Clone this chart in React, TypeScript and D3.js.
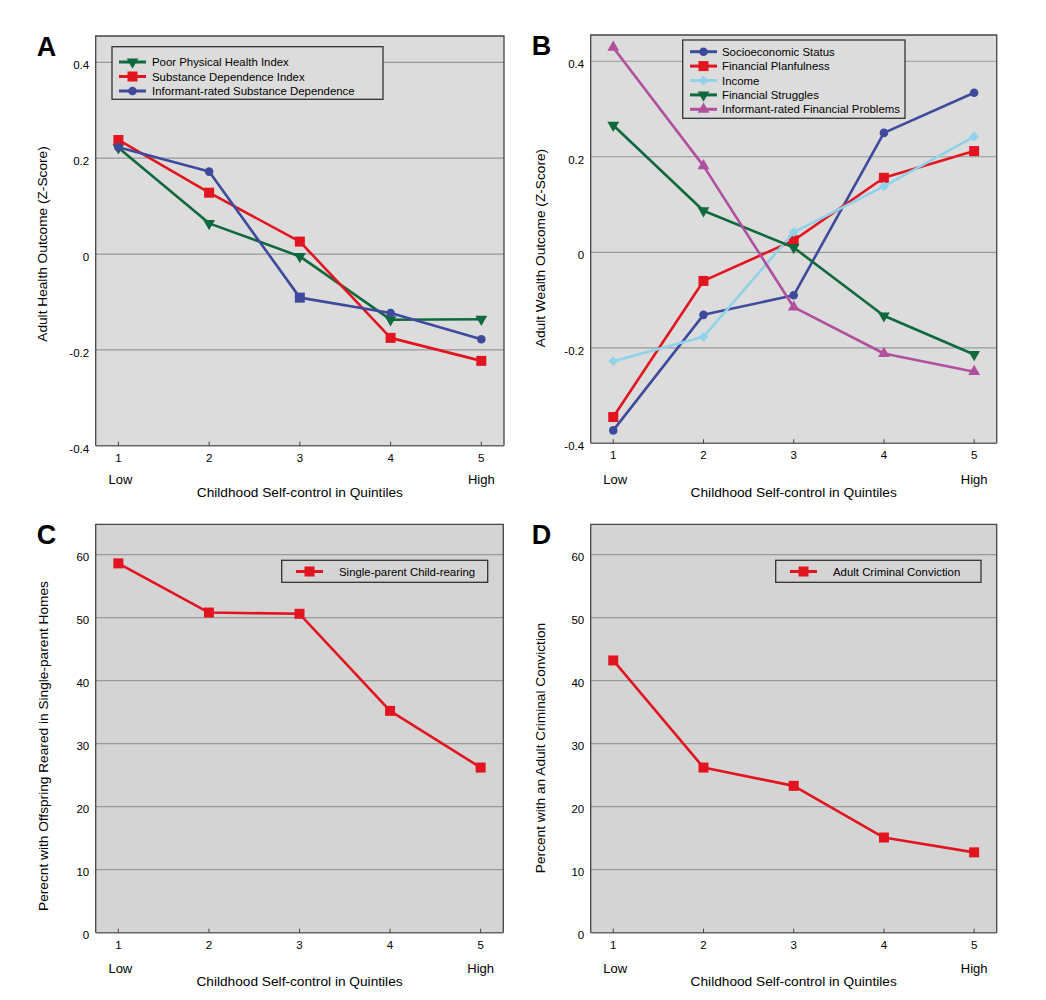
import * as d3 from "d3";

// x axis
const quintiles = [1, 2, 3, 4, 5];
const quintileEnds = ["Low", "High"];
const xTitle = "Childhood Self-control in Quintiles";

// panel A: adult health (z-score)
const healthTicks = [0.4, 0.2, 0, -0.2, -0.4];
const poorPhysicalHealth = [0.222, 0.064, -0.005, -0.137, -0.136];
const substanceDependence = [0.238, 0.128, 0.026, -0.175, -0.223];
const informantSubstance = [0.223, 0.172, -0.091, -0.123, -0.178];
// the source draws the 3rd informant point with a square marker
const informantSubstanceShapes = ["circle", "circle", "square", "circle", "circle"];

// panel B: adult wealth (z-score)
const wealthTicks = [0.4, 0.2, 0, -0.2, -0.4];
const socioeconomicStatus = [-0.373, -0.131, -0.09, 0.25, 0.334];
const financialPlanfulness = [-0.345, -0.06, 0.025, 0.156, 0.212];
const income = [-0.228, -0.177, 0.042, 0.138, 0.242];
const financialStruggles = [0.266, 0.087, 0.01, -0.133, -0.214];
const informantFinancial = [0.429, 0.181, -0.115, -0.212, -0.25];

// panels C and D: percentages
const percentTicks = [60, 50, 40, 30, 20, 10, 0];
const singleParent = [58.6, 50.8, 50.6, 35.2, 26.2];
const criminalConviction = [43.2, 26.2, 23.3, 15.1, 12.75];

type Shape = "circle" | "square" | "down" | "up" | "diamond";

interface Series {
  name: string;
  color: string;
  shape: Shape;
  values: number[];
  shapes?: string[];
}

interface PanelSpec {
  letter: string;
  left: number;
  right: number;
  top: number;
  bottom: number;
  yDomain: [number, number];
  yTicks: number[];
  yTitle: string;
  yTitleX: number;
  yTitleY: number;
  tickDy: number;
  endsY: number;
  titleY: number;
  bg: string;
  series: Series[];
  legend: { x: number; y: number; w: number; h: number; lineX: number; textX: number; rowStep: number; firstRow: number };
}

const GREEN = "#0e6a3c";
const RED = "#e2141f";
const BLUE = "#3e4a9c";
const LIGHTBLUE = "#8fd2ea";
const PURPLE = "#b0509f";

const FONT = "'Liberation Sans', Arial, Helvetica, sans-serif";

const panels: PanelSpec[] = [
  {
    letter: "A",
    left: 95.7, right: 504, top: 36, bottom: 445.7,
    yDomain: [-0.4, 0.455], yTicks: healthTicks,
    yTitle: "Adult Health Outcome (Z-Score)", yTitleX: 42, yTitleY: 244,
    tickDy: 3, endsY: 479.3, titleY: 492.3, bg: "#dcdcdc",
    series: [
      { name: "Poor Physical Health Index", color: GREEN, shape: "down", values: poorPhysicalHealth },
      { name: "Substance Dependence Index", color: RED, shape: "square", values: substanceDependence },
      { name: "Informant-rated Substance Dependence", color: BLUE, shape: "circle", values: informantSubstance, shapes: informantSubstanceShapes },
    ],
    legend: { x: 112, y: 46.7, w: 271, h: 52.6, lineX: 119, textX: 152, rowStep: 14.5, firstRow: 62 },
  },
  {
    letter: "B",
    left: 590.7, right: 996.7, top: 35, bottom: 443.3,
    yDomain: [-0.4, 0.455], yTicks: wealthTicks,
    yTitle: "Adult Wealth Outcome (Z-Score)", yTitleX: 540, yTitleY: 248,
    tickDy: 3, endsY: 479.3, titleY: 492.3, bg: "#dcdcdc",
    series: [
      { name: "Socioeconomic Status", color: BLUE, shape: "circle", values: socioeconomicStatus },
      { name: "Financial Planfulness", color: RED, shape: "square", values: financialPlanfulness },
      { name: "Income", color: LIGHTBLUE, shape: "diamond", values: income },
      { name: "Financial Struggles", color: GREEN, shape: "down", values: financialStruggles },
      { name: "Informant-rated Financial Problems", color: PURPLE, shape: "up", values: informantFinancial },
    ],
    legend: { x: 682.7, y: 40, w: 222.3, h: 78.3, lineX: 690, textX: 722, rowStep: 14.4, firstRow: 51.7 },
  },
  {
    letter: "C",
    left: 95.7, right: 503.3, top: 524.3, bottom: 932.7,
    yDomain: [0, 64.8], yTicks: percentTicks,
    yTitle: "Perecnt with Offspring Reared in Single-parent Homes", yTitleX: 43, yTitleY: 746,
    tickDy: 2, endsY: 968.3, titleY: 981, bg: "#d4d4d4",
    series: [
      { name: "Single-parent Child-rearing", color: RED, shape: "square", values: singleParent },
    ],
    legend: { x: 281.7, y: 560.3, w: 206, h: 22, lineX: 296, textX: 339, rowStep: 14, firstRow: 571.5 },
  },
  {
    letter: "D",
    left: 590.7, right: 996.7, top: 524.3, bottom: 932.7,
    yDomain: [0, 64.8], yTicks: percentTicks,
    yTitle: "Percent with an Adult Criminal Conviction", yTitleX: 540, yTitleY: 748,
    tickDy: 2, endsY: 968.3, titleY: 981, bg: "#d4d4d4",
    series: [
      { name: "Adult Criminal Conviction", color: RED, shape: "square", values: criminalConviction },
    ],
    legend: { x: 775.7, y: 560.3, w: 205.3, h: 22, lineX: 790, textX: 833, rowStep: 14, firstRow: 571.5 },
  },
];

function symbolPath(shape: string): { d: string; rotate: number } {
  const s = d3.symbol();
  switch (shape) {
    case "square":
      return { d: s.type(d3.symbolSquare).size(100)() as string, rotate: 0 };
    case "diamond":
      return { d: s.type(d3.symbolSquare).size(48)() as string, rotate: 45 };
    case "up":
      return { d: s.type(d3.symbolTriangle).size(60)() as string, rotate: 0 };
    case "down":
      return { d: s.type(d3.symbolTriangle).size(60)() as string, rotate: 180 };
    default:
      return { d: s.type(d3.symbolCircle).size(58)() as string, rotate: 0 };
  }
}

function Marker({ x, y, shape, color }: { x: number; y: number; shape: string; color: string }) {
  const { d, rotate } = symbolPath(shape);
  return <path d={d} transform={`translate(${x},${y}) rotate(${rotate})`} fill={color} />;
}

function Panel({ p }: { p: PanelSpec }) {
  const x = d3.scaleLinear().domain([0.75, 5.25]).range([p.left, p.right]);
  const y = d3.scaleLinear().domain(p.yDomain).range([p.bottom, p.top]);
  const line = d3
    .line<number>()
    .x((_, i) => x(quintiles[i]))
    .y((v) => y(v));
  const lg = p.legend;

  return (
    <g>
      <rect x={p.left} y={p.top} width={p.right - p.left} height={p.bottom - p.top} fill={p.bg} />
      {p.yTicks
        .filter((t) => t !== p.yDomain[0])
        .map((t) => (
          <line key={t} x1={p.left} x2={p.right} y1={y(t)} y2={y(t)} stroke="#999" strokeWidth={1.2} />
        ))}
      {/* legend */}
      <rect x={lg.x} y={lg.y} width={lg.w} height={lg.h} fill={p.bg} stroke="#333" strokeWidth={1.3} />
      {p.series.map((s, i) => {
        const ry = lg.firstRow + i * lg.rowStep;
        return (
          <g key={s.name}>
            <line x1={lg.lineX} x2={lg.lineX + 27} y1={ry} y2={ry} stroke={s.color} strokeWidth={3} />
            <Marker x={lg.lineX + 13.5} y={ry} shape={s.shape} color={s.color} />
            <text x={lg.textX} y={ry} dy="0.36em" fontSize={11.4} fill="#000">
              {s.name}
            </text>
          </g>
        );
      })}
      {/* series */}
      {p.series.map((s) => (
        <g key={s.name}>
          <path d={line(s.values) as string} fill="none" stroke={s.color} strokeWidth={2.6} strokeLinejoin="round" />
          {s.values.map((v, i) => (
            <Marker key={i} x={x(quintiles[i])} y={y(v)} shape={s.shapes ? s.shapes[i] : s.shape} color={s.color} />
          ))}
        </g>
      ))}
      {/* frame */}
      <path
        d={`M${p.left},${p.bottom} V${p.top} H${p.right} V${p.bottom}`}
        fill="none"
        stroke="#444"
        strokeWidth={1.3}
      />
      <line x1={p.left} x2={p.right} y1={p.bottom} y2={p.bottom} stroke="#666" strokeWidth={1.6} />
      {/* x ticks */}
      {quintiles.map((q) => (
        <g key={q}>
          <line x1={x(q)} x2={x(q)} y1={p.bottom - 4} y2={p.bottom} stroke="#444" strokeWidth={1} />
          <text x={x(q)} y={p.bottom + 12} dy="0.36em" textAnchor="middle" fontSize={11.5}>
            {q}
          </text>
        </g>
      ))}
      <text x={x(quintiles[0]) + 2} y={p.endsY} dy="0.36em" textAnchor="middle" fontSize={13}>
        {quintileEnds[0]}
      </text>
      <text x={x(quintiles[4])} y={p.endsY} dy="0.36em" textAnchor="middle" fontSize={13}>
        {quintileEnds[1]}
      </text>
      <text x={(p.left + p.right) / 2} y={p.titleY} dy="0.36em" textAnchor="middle" fontSize={13.7}>
        {xTitle}
      </text>
      {/* y ticks */}
      {p.yTicks.map((t) => (
        <text key={t} x={p.left - 6.5} y={y(t) + p.tickDy} dy="0.36em" textAnchor="end" fontSize={11.5}>
          {String(t)}
        </text>
      ))}
      <text
        transform={`translate(${p.yTitleX},${p.yTitleY}) rotate(-90)`}
        dy="0.36em"
        textAnchor="middle"
        fontSize={13.7}
      >
        {p.yTitle}
      </text>
      <text x={p.left - 59} y={p.top + 20} fontSize={27} fontWeight="bold">
        {p.letter}
      </text>
    </g>
  );
}

export default function App() {
  return (
    <svg
      width={1046}
      height={1000}
      style={{ position: "absolute", left: 0, top: 0, background: "#fff" }}
      fontFamily={FONT}
    >
      {panels.map((p) => (
        <Panel key={p.letter} p={p} />
      ))}
    </svg>
  );
}
